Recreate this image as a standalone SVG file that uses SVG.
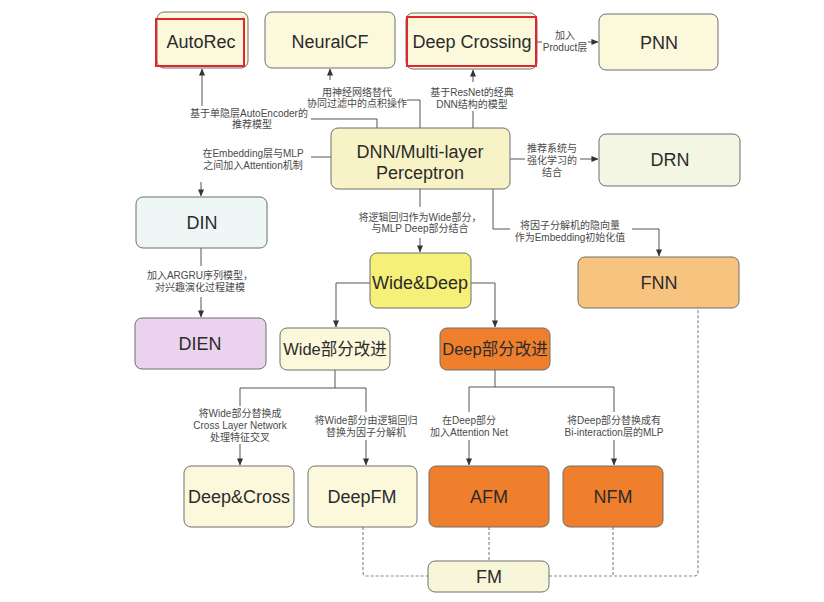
<svg xmlns="http://www.w3.org/2000/svg" width="824" height="602" viewBox="0 0 824 602">
<defs>
<marker id="arr" viewBox="0 0 8 8" refX="7.5" refY="4" markerWidth="7" markerHeight="7" orient="auto" markerUnits="userSpaceOnUse">
<path d="M0,0.5 L8,4 L0,7.5 z" fill="#333"/>
</marker>
<style>
.box{stroke:#6e6e6e;stroke-width:1}
.red{fill:none;stroke:#e3262b;stroke-width:2}
.t{font-family:"Liberation Sans","Noto Sans CJK SC",sans-serif;font-size:18px;fill:#2b2b2b;text-anchor:middle}
.tc{font-family:"Liberation Sans","Noto Sans CJK SC",sans-serif;font-size:16.5px;fill:#2b2b2b;text-anchor:middle}
.l{font-family:"Liberation Sans","Noto Sans CJK SC",sans-serif;font-size:10px;fill:#4a4a4a;text-anchor:middle}
.c{fill:none;stroke:#555;stroke-width:1}
.a{fill:none;stroke:#555;stroke-width:1;marker-end:url(#arr)}
.d{fill:none;stroke:#8a8a8a;stroke-width:1.2;stroke-dasharray:3 2}
.cream{fill:#fbf8dc}
.orange{fill:#ef7f2c}
</style>
</defs>
<rect width="824" height="602" fill="#ffffff"/>

<g id="connectors">
<!-- DNN -> AutoRec -->
<path class="c" d="M377,128 V119 H311"/>
<path class="a" d="M202,106 V69"/>
<text class="l" x="249" y="117">基于单隐层AutoEncoder的</text>
<text class="l" x="252" y="128">推荐模型</text>
<!-- DNN -> NeuralCF -->
<path class="c" d="M420,128 V100 H407"/>
<path class="a" d="M330,80 V69"/>
<text class="l" x="357" y="96">用神经网络替代</text>
<text class="l" x="357" y="107">协同过滤中的点积操作</text>
<!-- DNN -> Deep Crossing -->
<path class="c" d="M473,128 V111"/>
<path class="a" d="M473,82 V70"/>
<text class="l" x="472" y="96">基于ResNet的经典</text>
<text class="l" x="472" y="108">DNN结构的模型</text>
<!-- Deep Crossing -> PNN -->
<path class="c" d="M537,42 H542"/>
<path class="a" d="M588,42 H598"/>
<text class="l" x="565" y="39">加入</text>
<text class="l" x="565" y="51">Product层</text>
<!-- DNN -> DRN -->
<path class="c" d="M510,159 H525"/>
<path class="a" d="M580,159 H598"/>
<text class="l" x="552" y="152">推荐系统与</text>
<text class="l" x="552" y="164">强化学习的</text>
<text class="l" x="552" y="176">结合</text>
<!-- DNN -> DIN -->
<path class="c" d="M331,157 H311"/>
<path class="a" d="M201,182 V196"/>
<text class="l" x="253" y="157">在Embedding层与MLP</text>
<text class="l" x="253" y="169">之间加入Attention机制</text>
<!-- DNN -> Wide&Deep -->
<path class="c" d="M420,189 V207"/>
<path class="a" d="M420,238 V252"/>
<text class="l" x="420" y="221">将逻辑回归作为Wide部分，</text>
<text class="l" x="420" y="232">与MLP Deep部分结合</text>
<!-- DNN -> FNN -->
<path class="c" d="M493,189 V229 H510"/>
<path class="a" d="M632,229 H659 V256"/>
<text class="l" x="570" y="229">将因子分解机的隐向量</text>
<text class="l" x="570" y="241">作为Embedding初始化值</text>
<!-- DIN -> DIEN -->
<path class="c" d="M201,248 V266"/>
<path class="a" d="M201,297 V317"/>
<text class="l" x="200" y="279">加入ARGRU序列模型，</text>
<text class="l" x="200" y="291">对兴趣演化过程建模</text>
<!-- Wide&Deep -> Wide / Deep improvements -->
<path class="a" d="M370,283 H336 V327"/>
<path class="a" d="M471,283 H495 V327"/>
<!-- Wide branch -->
<path class="c" d="M335,370 V388"/>
<path class="c" d="M240,406 V388 H366 V412"/>
<path class="a" d="M240,444 V465"/>
<path class="a" d="M366,440 V465"/>
<text class="l" x="240" y="417">将Wide部分替换成</text>
<text class="l" x="240" y="429">Cross Layer Network</text>
<text class="l" x="240" y="441">处理特征交叉</text>
<text class="l" x="366" y="424">将Wide部分由逻辑回归</text>
<text class="l" x="366" y="436">替换为因子分解机</text>
<!-- Deep branch -->
<path class="c" d="M495,370 V387"/>
<path class="c" d="M469,412 V387 H614 V412"/>
<path class="a" d="M469,440 V465"/>
<path class="a" d="M614,440 V465"/>
<text class="l" x="469" y="424">在Deep部分</text>
<text class="l" x="469" y="436">加入Attention Net</text>
<text class="l" x="614" y="424">将Deep部分替换成有</text>
<text class="l" x="614" y="436">Bi-interaction层的MLP</text>
<!-- dashed to FM -->
<path class="d" d="M363,527 V572 Q363,576 367,576 H428"/>
<path class="d" d="M489,527 V561"/>
<path class="d" d="M549,576 H694 Q698,576 698,572 V308"/>
<path class="d" d="M613,527 V576"/>
</g>

<g id="AutoRec">
<rect class="box cream" x="157" y="12" width="91" height="56" rx="7"/>
<rect class="red" x="156" y="19" width="88" height="47"/>
<text class="t" x="201" y="48">AutoRec</text>
</g>
<g id="NeuralCF">
<rect class="box cream" x="265" y="12" width="130" height="56" rx="7"/>
<text class="t" x="330" y="48">NeuralCF</text>
</g>
<g id="DeepCrossing">
<rect class="box cream" x="406" y="13" width="131" height="56" rx="7"/>
<rect class="red" x="407" y="17" width="129" height="49"/>
<text class="t" x="472" y="48">Deep Crossing</text>
</g>
<g id="PNN">
<rect class="box cream" x="599" y="14" width="119" height="56" rx="7"/>
<text class="t" x="659" y="49">PNN</text>
</g>
<g id="DNN">
<rect class="box" fill="#f8f3c6" x="331" y="128" width="179" height="61" rx="7"/>
<text class="t" x="420" y="158">DNN/Multi-layer</text>
<text class="t" x="420" y="179">Perceptron</text>
</g>
<g id="DRN">
<rect class="box" fill="#f3f6e2" x="599" y="134" width="141" height="52" rx="7"/>
<text class="t" x="670" y="166">DRN</text>
</g>
<g id="DIN">
<rect class="box" fill="#eef6f6" x="136" y="197" width="131" height="51" rx="7"/>
<text class="t" x="202" y="229">DIN</text>
</g>
<g id="WideDeep">
<rect class="box" fill="#f6ef78" x="370" y="253" width="101" height="55" rx="7"/>
<text class="t" x="420" y="289">Wide&amp;Deep</text>
</g>
<g id="FNN">
<rect class="box" fill="#f7c47f" x="578" y="257" width="161" height="51" rx="7"/>
<text class="t" x="659" y="289">FNN</text>
</g>
<g id="DIEN">
<rect class="box" fill="#ebd3ef" x="135" y="318" width="131" height="51" rx="7"/>
<text class="t" x="200" y="350">DIEN</text>
</g>
<g id="WideImprove">
<rect class="box cream" x="280" y="328" width="110" height="42" rx="7"/>
<text class="tc" x="335" y="355">Wide部分改进</text>
</g>
<g id="DeepImprove">
<rect class="box orange" x="440" y="328" width="110" height="42" rx="7"/>
<text class="tc" x="495" y="355">Deep部分改进</text>
</g>
<g id="DeepCross">
<rect class="box cream" x="184" y="466" width="110" height="61" rx="7"/>
<text class="t" x="239" y="503">Deep&amp;Cross</text>
</g>
<g id="DeepFM">
<rect class="box cream" x="308" y="466" width="109" height="61" rx="7"/>
<text class="t" x="362" y="503">DeepFM</text>
</g>
<g id="AFM">
<rect class="box orange" x="429" y="466" width="120" height="61" rx="7"/>
<text class="t" x="489" y="503">AFM</text>
</g>
<g id="NFM">
<rect class="box orange" x="563" y="466" width="100" height="61" rx="7"/>
<text class="t" x="613" y="503">NFM</text>
</g>
<g id="FM">
<rect class="box" fill="#f8f6d9" x="428" y="561" width="121" height="31" rx="7"/>
<text class="t" x="489" y="583">FM</text>
</g>
</svg>
